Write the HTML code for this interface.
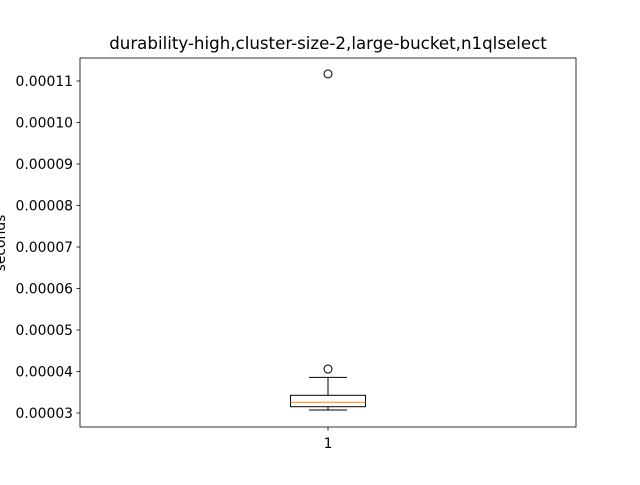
<!DOCTYPE html>
<html><head><meta charset="utf-8"><style>
body{margin:0;background:#fff;}
svg text{font-family:"DejaVu Sans","Liberation Sans",sans-serif;}
</style></head><body>
<svg id="chart" width="640" height="480" xmlns="http://www.w3.org/2000/svg">
<rect width="640" height="480" fill="#fff"/>
<text x="328" y="49" text-anchor="middle" font-size="16.67">durability-high,cluster-size-2,large-bucket,n1qlselect</text>
<text transform="translate(5,243) rotate(-90)" text-anchor="middle" font-size="13.9">seconds</text>
<g id="axes"></g>
</svg>
<script>
const categories=["1"];
const whiskerLow=[3.072e-5];
const q1=[3.152e-5];
const median=[3.258e-5];
const q3=[3.427e-5];
const whiskerHigh=[3.86e-5];
const outliers=[[4.06e-5,11.17e-5]];
const yTicks=[3e-5,4e-5,5e-5,6e-5,7e-5,8e-5,9e-5,10e-5,11e-5];
const yTickLabels=["0.00003","0.00004","0.00005","0.00006","0.00007","0.00008","0.00009","0.00010","0.00011"];
const L=80,R=576,T=58,B=427,yMin=2.663e-5,yMax=11.554e-5;
const y=v=>B-(v-yMin)/(yMax-yMin)*(B-T);
const x=i=>L+(i+0.5)*(R-L)/categories.length;
const NS="http://www.w3.org/2000/svg";
const g=document.getElementById('axes');
function mk(t,a){const e=document.createElementNS(NS,t);for(const k in a)e.setAttribute(k,a[k]);g.appendChild(e);return e;}
yTicks.forEach((v,i)=>{
 const tk=mk('line',{x1:L-3.5,x2:L,y1:y(v),y2:y(v),stroke:'#000','stroke-width':0.8});
 
 
 const t=mk('text',{x:L-7,y:y(v)+5,'text-anchor':'end','font-size':13.9});
 t.textContent=yTickLabels[i];
 
 
});
categories.forEach((c,i)=>{
 const cx=x(i),bw=75,cw=38;
 const tk=mk('line',{x1:cx,x2:cx,y1:B,y2:B+3.5,stroke:'#000','stroke-width':0.8});
 
 
 const t=mk('text',{x:cx,y:B+21,'text-anchor':'middle','font-size':13.9});t.textContent=c;
 
 
 const w1=mk('line',{x1:cx,x2:cx,y1:y(q3[i]),y2:y(whiskerHigh[i]),stroke:'#000'});
 
 
 const w2=mk('line',{x1:cx,x2:cx,y1:y(q1[i]),y2:y(whiskerLow[i]),stroke:'#000'});
 
 
 const c1=mk('line',{x1:cx-cw/2,x2:cx+cw/2,y1:y(whiskerHigh[i]),y2:y(whiskerHigh[i]),stroke:'#000'});
 
 
 const c2=mk('line',{x1:cx-cw/2,x2:cx+cw/2,y1:y(whiskerLow[i]),y2:y(whiskerLow[i]),stroke:'#000'});
 
 
 const b=mk('rect',{x:cx-bw/2,y:y(q3[i]),width:bw,height:y(q1[i])-y(q3[i]),fill:'none',stroke:'#000'});
 
 
 const m=mk('line',{x1:cx-bw/2,x2:cx+bw/2,y1:y(median[i]),y2:y(median[i]),stroke:'#ff7f0e'});
 
 
 outliers[i].forEach(v=>{
  const o=mk('circle',{cx:cx,cy:y(v),r:4,fill:'none',stroke:'#000'});
  
  
 });
});
const f=mk('rect',{x:L,y:T,width:R-L,height:B-T,fill:'none',stroke:'#000','stroke-width':0.8});


</script>
</body></html>
